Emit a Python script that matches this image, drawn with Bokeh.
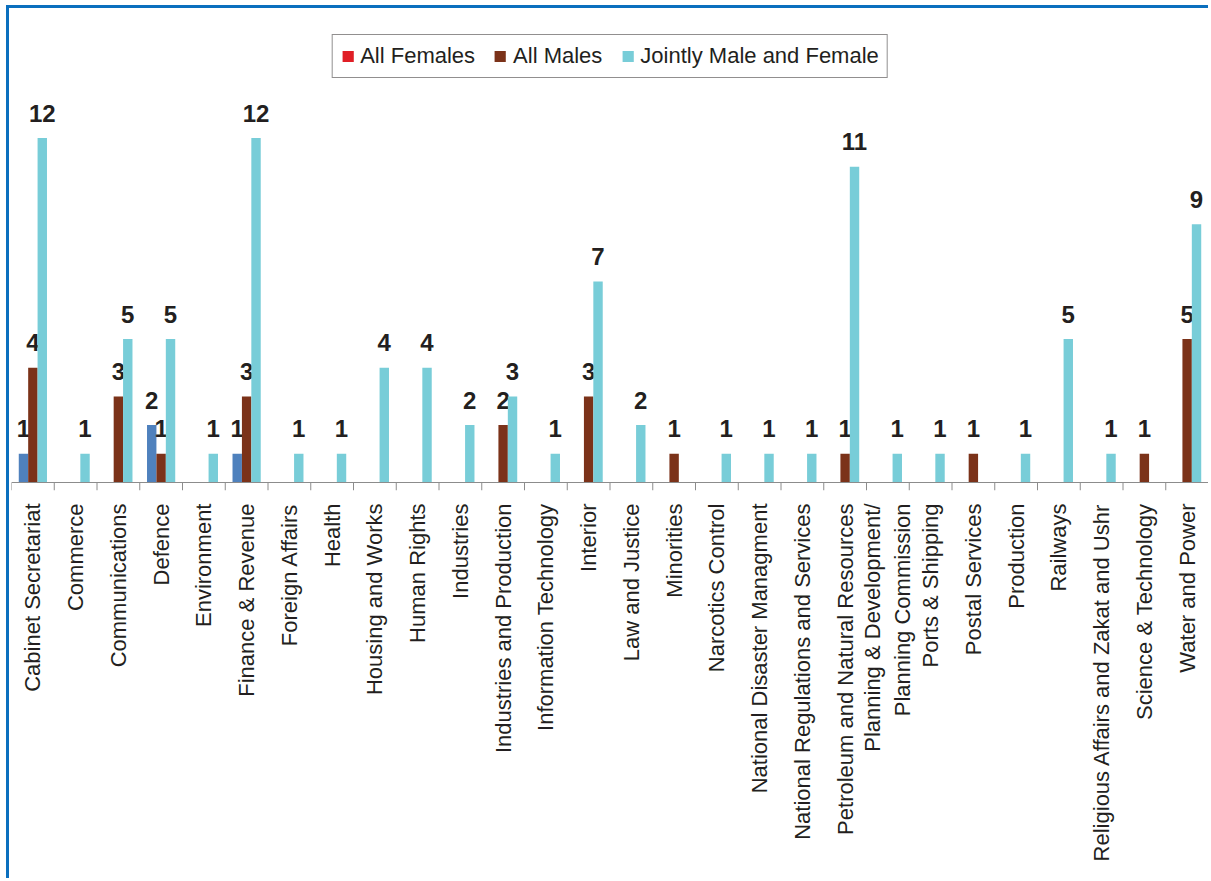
import math
from bokeh.plotting import figure
from bokeh.models import FactorRange, Range1d, Legend, LegendItem, ColumnDataSource
from bokeh.transform import dodge
from bokeh.core.properties import value
from bokeh.embed import file_html
from bokeh.resources import INLINE

categories = [
    "Cabinet Secretariat", "Commerce", "Communications", "Defence", "Environment",
    "Finance & Revenue", "Foreign Affairs", "Health", "Housing and Works", "Human Rights",
    "Industries", "Industries and Production", "Information Technology", "Interior",
    "Law and Justice", "Minorities", "Narcotics Control", "National Disaster Managment",
    "National Regulations and Services", "Petroleum and Natural Resources",
    "Planning & Development/\nPlanning Commission", "Ports & Shipping", "Postal Services",
    "Production", "Railways", "Religious Affairs and Zakat and Ushr",
    "Science & Technology", "Water and Power",
]
all_females = [1, 0, 0, 2, 0, 1, 0, 0, 0, 0, 0, 0, 0, 0, 0, 0, 0, 0, 0, 0, 0, 0, 0, 0, 0, 0, 0, 0]
all_males = [4, 0, 3, 1, 0, 3, 0, 0, 0, 0, 0, 2, 0, 3, 0, 1, 0, 0, 0, 1, 0, 0, 1, 0, 0, 0, 1, 5]
jointly = [12, 1, 5, 5, 1, 12, 1, 1, 4, 4, 2, 3, 1, 7, 2, 0, 1, 1, 1, 11, 1, 1, 0, 1, 5, 1, 0, 9]
series_names = ["All Females", "All Males", "Jointly Male and Female"]

bar_colors = ["#4F81BD", "#7B3219", "#78CDD8"]
legend_colors = ["#E01F26", "#7B3219", "#78CDD8"]
offsets = [-0.22, 0.0, 0.22]
BAR_W = 0.22
TICK_LEN = 0.2787
FONT = "Liberation Sans"
TXT = "#231F20"

p = figure(
    x_range=FactorRange(factors=categories, range_padding=0),
    y_range=Range1d(-TICK_LEN, 16.098),
    width=1202, height=873,
    output_backend="svg", toolbar_location=None,
    y_axis_location=None,
    min_border_left=2, min_border_right=3, min_border_top=12, min_border_bottom=391,
)
p.styles = {
    "margin-left": "6px", "margin-top": "5px",
    "border-left": "3px solid #0B6FBE", "border-top": "3px solid #0B6FBE",
}
p.outline_line_color = None
p.xgrid.visible = False
p.ygrid.visible = False
p.background_fill_color = "white"
p.border_fill_color = "white"

legend_items = []
for vals, name, bc, lc, off in zip([all_females, all_males, jointly], series_names,
                                    bar_colors, legend_colors, offsets):
    cats = [c for c, v in zip(categories, vals) if v > 0]
    vv = [v for v in vals if v > 0]
    src = ColumnDataSource(dict(cat=cats, val=vv, label=[str(v) for v in vv]))
    p.vbar(x=dodge("cat", off, range=p.x_range), top="val", bottom=0, width=BAR_W,
           source=src, fill_color=bc, line_color=None)
    p.text(x=dodge("cat", off, range=p.x_range), y="val", text="label", source=src,
           text_align="center", text_baseline="alphabetic", y_offset=-25,
           text_font=value(FONT), text_font_style="bold", text_font_size="24px",
           text_color=TXT)
    # legend swatch renderer: a zero-size bar, nothing visible on the plot
    dummy = p.vbar(x=[categories[0]], top=[0], bottom=[0], width=0,
                   fill_color=lc, line_color=None)
    legend_items.append(LegendItem(label=name, renderers=[dummy]))

n = len(categories)
bounds = list(range(n + 1))
p.segment(x0=bounds, x1=bounds, y0=[0] * (n + 1), y1=[-TICK_LEN] * (n + 1),
          line_color="#8C8C8C", line_width=1)
p.segment(x0=[0], x1=[n], y0=[0], y1=[0], line_color="#8C8C8C", line_width=1)

legend = Legend(items=legend_items, orientation="horizontal", location="top_center",
                margin=14, padding=8, spacing=18, label_standoff=6,
                glyph_width=14, glyph_height=14,
                label_text_font=FONT, label_text_font_size="22px", label_text_color=TXT,
                border_line_color="#231F20", border_line_width=1,
                background_fill_color="white", background_fill_alpha=1)
p.add_layout(legend)

ax = p.xaxis[0]
ax.major_label_orientation = math.pi / 2
ax.major_tick_line_color = None
ax.minor_tick_line_color = None
ax.axis_line_color = None
ax.major_label_standoff = 7
ax.major_label_text_font = FONT
ax.major_label_text_font_size = "22px"
ax.major_label_text_color = TXT

open("out.html", "w").write(file_html(p, INLINE))
